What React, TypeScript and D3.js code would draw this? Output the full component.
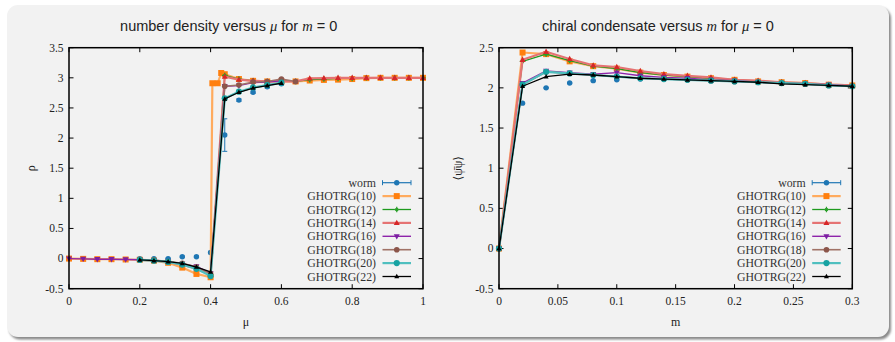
import React from 'react';
import * as d3 from 'd3';

// ---------- Left panel data: number density vs mu ----------
const muTicks = [0, 0.2, 0.4, 0.6, 0.8, 1];
const rhoTicks = [-0.5, 0, 0.5, 1, 1.5, 2, 2.5, 3, 3.5];

const muWorm = [0.2, 0.24, 0.28, 0.32, 0.36, 0.4, 0.44, 0.48, 0.52, 0.56, 0.6];
const rhoWorm = [0.0, 0.0, 0.0, 0.03, 0.03, 0.1, 2.05, 2.63, 2.76, 2.85, 2.9];
const rhoWormErr = [0.005, 0.005, 0.005, 0.01, 0.01, 0.02, 0.27, 0.02, 0.02, 0.02, 0.02];

const mu10 = [0, 0.04, 0.08, 0.12, 0.16, 0.2, 0.24, 0.28, 0.32, 0.36, 0.4, 0.405, 0.42, 0.43, 0.44, 0.48, 0.52, 0.56, 0.6, 0.64, 0.68, 0.72, 0.76, 0.8, 0.84, 0.88, 0.92, 0.96, 1.0];
const rho10 = [0, -0.005, -0.01, -0.01, -0.015, -0.02, -0.035, -0.07, -0.15, -0.255, -0.31, 2.91, 2.91, 3.08, 3.06, 2.98, 2.95, 2.94, 2.94, 2.94, 2.955, 2.965, 2.97, 2.98, 2.995, 3.0, 3.0, 3.0, 3.0];

const muFull = [0.2, 0.24, 0.28, 0.32, 0.36, 0.4, 0.44, 0.48, 0.52, 0.56, 0.6, 0.64, 0.68, 0.72, 0.76, 0.8, 0.84, 0.88, 0.92, 0.96, 1.0];
const rho12 = [-0.02, -0.03, -0.055, -0.1, -0.17, -0.27, 3.04, 2.98, 2.95, 2.94, 2.95, 2.94, 2.97, 2.98, 2.99, 2.99, 3.0, 3.0, 3.0, 3.0, 3.0];
const rho14 = [-0.02, -0.03, -0.055, -0.1, -0.17, -0.27, 3.02, 2.97, 2.95, 2.94, 2.94, 2.94, 2.99, 2.995, 3.0, 3.0, 3.0, 3.0, 3.0, 3.0, 3.0];

const mu16 = [0, 0.04, 0.08, 0.12, 0.16, 0.2, 0.24, 0.28, 0.32, 0.36, 0.4, 0.44, 0.48, 0.52, 0.56, 0.6];
const rho16 = [0, -0.005, -0.01, -0.01, -0.015, -0.02, -0.03, -0.05, -0.09, -0.13, -0.24, 2.86, 2.87, 2.92, 2.93, 2.95];
const muShort = [0.2, 0.24, 0.28, 0.32, 0.36, 0.4, 0.44, 0.48, 0.52, 0.56, 0.6];
const muShort18 = [0.2, 0.24, 0.28, 0.32, 0.36, 0.4, 0.44, 0.48, 0.52, 0.56, 0.6, 0.64];
const rho18 = [-0.02, -0.03, -0.05, -0.08, -0.14, -0.25, 2.86, 2.88, 2.93, 2.94, 2.98, 2.94];
const rho20 = [-0.022, -0.035, -0.055, -0.1, -0.17, -0.29, 2.66, 2.77, 2.84, 2.88, 2.92];
const rho22 = [-0.023, -0.035, -0.05, -0.08, -0.14, -0.22, 2.65, 2.76, 2.83, 2.87, 2.91];

// ---------- Right panel data: chiral condensate vs m ----------
const mTicks = [0, 0.05, 0.1, 0.15, 0.2, 0.25, 0.3];
const condTicks = [-0.5, 0, 0.5, 1, 1.5, 2, 2.5];

const mWorm = [0.02, 0.04, 0.06, 0.08, 0.1, 0.12, 0.14, 0.16, 0.18, 0.2, 0.22, 0.24, 0.26, 0.28, 0.3];
const cWorm = [1.81, 2.0, 2.06, 2.09, 2.1, 2.11, 2.11, 2.1, 2.09, 2.08, 2.07, 2.06, 2.05, 2.04, 2.03];
const cWormErr = [0.005, 0.005, 0.005, 0.005, 0.005, 0.005, 0.005, 0.005, 0.005, 0.005, 0.005, 0.005, 0.005, 0.005, 0.005];

const mGrid = [0, 0.02, 0.04, 0.06, 0.08, 0.1, 0.12, 0.14, 0.16, 0.18, 0.2, 0.22, 0.24, 0.26, 0.28, 0.3];
const c10 = [0, 2.44, 2.42, 2.33, 2.27, 2.24, 2.19, 2.16, 2.14, 2.12, 2.1, 2.08, 2.07, 2.06, 2.04, 2.03];
const c12 = [0, 2.33, 2.42, 2.34, 2.27, 2.24, 2.19, 2.16, 2.14, 2.12, 2.1, 2.08, 2.07, 2.05, 2.04, 2.03];
const c14 = [0, 2.35, 2.45, 2.36, 2.28, 2.26, 2.21, 2.17, 2.15, 2.13, 2.1, 2.09, 2.07, 2.06, 2.04, 2.03];
const c16 = [0, 2.06, 2.21, 2.19, 2.17, 2.19, 2.15, 2.13, 2.12, 2.1, 2.09, 2.07, 2.06, 2.05, 2.04, 2.02];
const c18 = [0, 2.04, 2.2, 2.18, 2.16, 2.14, 2.12, 2.11, 2.1, 2.09, 2.08, 2.07, 2.06, 2.05, 2.03, 2.02];
const c20 = [0, 2.04, 2.2, 2.18, 2.16, 2.14, 2.12, 2.11, 2.1, 2.09, 2.08, 2.07, 2.06, 2.05, 2.03, 2.02];
const c22 = [0, 2.02, 2.14, 2.17, 2.16, 2.14, 2.12, 2.11, 2.1, 2.09, 2.08, 2.07, 2.05, 2.04, 2.03, 2.02];

const legendNames = ['worm', 'GHOTRG(10)', 'GHOTRG(12)', 'GHOTRG(14)', 'GHOTRG(16)', 'GHOTRG(18)', 'GHOTRG(20)', 'GHOTRG(22)'];

type MarkerType = 'circle' | 'square' | 'plus' | 'triUp' | 'triDown' | 'dot';
type Style = { color: string; line: string; lw: number; marker: MarkerType; size: number };

const styles: Style[] = [
  { color: '#1f77b4', line: '#1f77b4', lw: 1.2, marker: 'circle', size: 2.7 },
  { color: '#ff7f0e', line: '#ffab5e', lw: 2.2, marker: 'square', size: 6 },
  { color: '#2ca02c', line: '#1e9a1e', lw: 1.3, marker: 'plus', size: 2.3 },
  { color: '#d62728', line: '#e57373', lw: 2.2, marker: 'triUp', size: 6 },
  { color: '#7b1fa2', line: '#8e24aa', lw: 1.4, marker: 'triDown', size: 6 },
  { color: '#8c564b', line: '#a07266', lw: 1.6, marker: 'dot', size: 2.8 },
  { color: '#17a2a2', line: '#4fbfbf', lw: 2.2, marker: 'circle', size: 3.1 },
  { color: '#000000', line: '#000000', lw: 1.3, marker: 'triUp', size: 5 },
];

function Marker({ type, x, y, s, color }: { type: MarkerType; x: number; y: number; s: number; color: string }) {
  if (type === 'circle' || type === 'dot') return <circle cx={x} cy={y} r={s} fill={color} />;
  if (type === 'square') return <rect x={x - s / 2} y={y - s / 2} width={s} height={s} fill={color} />;
  if (type === 'plus')
    return (
      <g>
        <circle cx={x} cy={y} r={s * 0.8} fill={color} />
        <path d={`M${x - s * 1.2},${y}H${x + s * 1.2}M${x},${y - s * 1.2}V${y + s * 1.2}`} stroke={color} strokeWidth={1.2} />
      </g>
    );
  const h = s * 0.9;
  if (type === 'triUp')
    return <path d={`M${x},${y - h * 0.6}L${x + s / 2},${y + h * 0.4}L${x - s / 2},${y + h * 0.4}Z`} fill={color} />;
  return <path d={`M${x},${y + h * 0.6}L${x + s / 2},${y - h * 0.4}L${x - s / 2},${y - h * 0.4}Z`} fill={color} />;
}

type SeriesData = { x: number[]; y: number[]; err?: number[] };

const serif = '"Liberation Serif", "DejaVu Serif", serif';
const sans = '"Liberation Sans", Arial, sans-serif';

function Plot(props: {
  left: number; right: number; top: number; bottom: number;
  xDomain: [number, number]; yDomain: [number, number];
  xTicks: number[]; yTicks: number[];
  series: SeriesData[];
  legendTextX: number;
  xLabel: string; yLabel: string; yLabelX: number;
}) {
  const { left, right, top, bottom, xDomain, yDomain, xTicks, yTicks, series } = props;
  const xs = d3.scaleLinear().domain(xDomain).range([left, right]);
  const ys = d3.scaleLinear().domain(yDomain).range([bottom, top]);
  const tl = 4.5;
  const line = d3.line<[number, number]>().x(d => xs(d[0])).y(d => ys(d[1]));
  const fmt = (v: number) => String(v);
  const legTop = 182.7, legStep = 13.4;
  const lx0 = props.legendTextX + 6.5, lx1 = props.legendTextX + 35;
  return (
    <g>
      {xTicks.map((t, i) => (
        <g key={'xt' + i}>
          <line x1={xs(t)} x2={xs(t)} y1={bottom} y2={bottom - tl} stroke="#000" strokeWidth={1} />
          <line x1={xs(t)} x2={xs(t)} y1={top} y2={top + tl} stroke="#000" strokeWidth={1} />
          <text x={xs(t)} y={bottom + 16.5} fontFamily={serif} fontSize={11.5} textAnchor="middle" fill="#222">{fmt(t)}</text>
        </g>
      ))}
      {yTicks.map((t, i) => (
        <g key={'yt' + i}>
          <line x1={left} x2={left + tl} y1={ys(t)} y2={ys(t)} stroke="#000" strokeWidth={1} />
          <line x1={right} x2={right - tl} y1={ys(t)} y2={ys(t)} stroke="#000" strokeWidth={1} />
          <text x={left - 5.5} y={ys(t) + 3.8} fontFamily={serif} fontSize={11.5} textAnchor="end" fill="#222">{fmt(t)}</text>
        </g>
      ))}
      {series.map((s, si) => {
        const st = styles[si];
        const pts = s.x.map((x, i) => [x, s.y[i]] as [number, number]);
        return (
          <g key={'s' + si}>
            {si > 0 && <path d={line(pts) || ''} fill="none" stroke={st.line} strokeWidth={st.lw} strokeLinejoin="round" />}
            {s.err && s.x.map((x, i) => (
              <g key={'e' + i} stroke={st.color} strokeWidth={1}>
                <line x1={xs(x)} x2={xs(x)} y1={ys(s.y[i] - s.err![i])} y2={ys(s.y[i] + s.err![i])} />
                <line x1={xs(x) - 2.5} x2={xs(x) + 2.5} y1={ys(s.y[i] - s.err![i])} y2={ys(s.y[i] - s.err![i])} />
                <line x1={xs(x) - 2.5} x2={xs(x) + 2.5} y1={ys(s.y[i] + s.err![i])} y2={ys(s.y[i] + s.err![i])} />
              </g>
            ))}
            {pts.map((p, i) => (
              <Marker key={'m' + i} type={st.marker} x={xs(p[0])} y={ys(p[1])} s={st.size} color={st.color} />
            ))}
          </g>
        );
      })}
      <rect x={left} y={top} width={right - left} height={bottom - top} fill="none" stroke="#000" strokeWidth={1.5} />
      {legendNames.map((n, i) => {
        const y = legTop + i * legStep;
        const st = styles[i];
        const mx = (lx0 + lx1) / 2;
        return (
          <g key={'lg' + i}>
            <text x={props.legendTextX} y={y + 4} fontFamily={serif} fontSize={11.8} textAnchor="end" fill="#333">{n}</text>
            <line x1={lx0} x2={lx1} y1={y} y2={y} stroke={i === 0 ? st.color : st.line} strokeWidth={i === 0 ? 1.2 : st.lw} />
            {i === 0 && (
              <g stroke={st.color} strokeWidth={1}>
                <line x1={lx0} x2={lx0} y1={y - 2.5} y2={y + 2.5} />
                <line x1={lx1} x2={lx1} y1={y - 2.5} y2={y + 2.5} />
              </g>
            )}
            <Marker type={st.marker} x={mx} y={y} s={st.size} color={st.color} />
          </g>
        );
      })}
      <text x={(left + right) / 2} y={bottom + 37.5} fontFamily={serif} fontSize={12} textAnchor="middle" fill="#222">{props.xLabel}</text>
      <text transform={`translate(${props.yLabelX},${(top + bottom) / 2}) rotate(-90)`} fontFamily={serif} fontSize={12} textAnchor="middle" fill="#222">{props.yLabel}</text>
    </g>
  );
}

export default function App() {
  const leftSeries: SeriesData[] = [
    { x: muWorm, y: rhoWorm, err: rhoWormErr },
    { x: mu10, y: rho10 },
    { x: muFull, y: rho12 },
    { x: muFull, y: rho14 },
    { x: mu16, y: rho16 },
    { x: muShort18, y: rho18 },
    { x: muShort, y: rho20 },
    { x: muShort, y: rho22 },
  ];
  const rightSeries: SeriesData[] = [
    { x: mWorm, y: cWorm, err: cWormErr },
    { x: mGrid, y: c10 },
    { x: mGrid, y: c12 },
    { x: mGrid, y: c14 },
    { x: mGrid, y: c16 },
    { x: mGrid, y: c18 },
    { x: mGrid, y: c20 },
    { x: mGrid, y: c22 },
  ];
  const it = { fontFamily: serif, fontStyle: 'italic' as const };
  return (
    <div style={{ position: 'absolute', left: 0, top: 0 }}>
      <svg width={895} height={342} xmlns="http://www.w3.org/2000/svg" style={{ display: 'block' }}>
        <defs>
          <filter id="sh" x="-5%" y="-5%" width="110%" height="110%">
            <feGaussianBlur stdDeviation="1.2" />
          </filter>
        </defs>
        <rect x={0} y={0} width={895} height={342} fill="#ffffff" />
        <rect x={9} y={7.5} width={882} height={332} rx={11} fill="#8a8a8a" filter="url(#sh)" />
        <rect x={7} y={5} width={882} height={332} rx={11} fill="#f2f2f2" />
        <Plot left={69} right={423} top={47.7} bottom={288.7} xDomain={[0, 1]} yDomain={[-0.5, 3.5]}
          xTicks={muTicks} yTicks={rhoTicks} series={leftSeries} legendTextX={376}
          xLabel="μ" yLabel="ρ" yLabelX={35} />
        <Plot left={499} right={852.3} top={47.7} bottom={288.7} xDomain={[0, 0.3]} yDomain={[-0.5, 2.5]}
          xTicks={mTicks} yTicks={condTicks} series={rightSeries} legendTextX={805.7}
          xLabel="m" yLabel="⟨ψ̄ψ⟩" yLabelX={462} />
        <text x={228.7} y={31} fontFamily={sans} fontSize={14.5} textAnchor="middle" fill="#222">
          number density versus <tspan {...it}>μ</tspan> for <tspan {...it}>m</tspan> = 0
        </text>
        <text x={658} y={31} fontFamily={sans} fontSize={14.5} textAnchor="middle" fill="#222">
          chiral condensate versus <tspan {...it}>m</tspan> for <tspan {...it}>μ</tspan> = 0
        </text>
      </svg>
    </div>
  );
}
